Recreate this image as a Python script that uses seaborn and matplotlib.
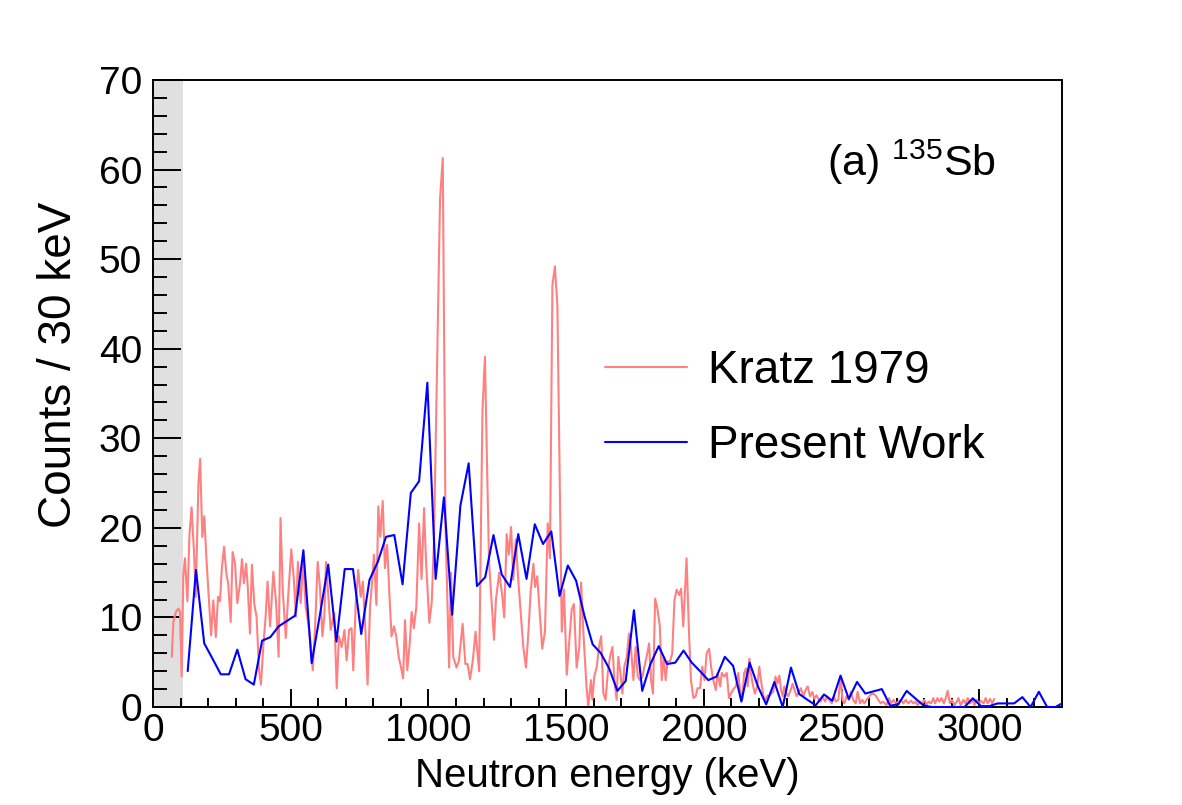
import numpy as np
import seaborn as sns
import matplotlib.pyplot as plt
from matplotlib.ticker import MultipleLocator

# Kratz 1979 spectrum
kratz_energy = [68, 74, 83, 92, 98, 104, 110, 116, 125, 132, 140, 149, 155, 165, 171, 179, 186, 195, 203, 211,
                219, 228, 236, 243, 250, 258, 267, 273, 282, 289, 298, 306, 316, 323, 330, 338, 344, 352, 359, 368,
                376, 385, 392, 401, 408, 416, 425, 437, 447, 456, 463, 471, 482, 491, 502, 511, 519, 526, 536, 546,
                554, 564, 572, 580, 588, 598, 606, 615, 622, 628, 637, 645, 658, 667, 675, 685, 695, 703, 712, 721,
                727, 736, 745, 754, 762, 771, 779, 788, 796, 802, 811, 818, 825, 834, 842, 850, 858, 866, 875, 883,
                892, 900, 908, 915, 923, 932, 939, 947, 956, 966, 975, 984, 991, 1003, 1012, 1020, 1042, 1052, 1062, 1075,
                1082, 1090, 1102, 1111, 1124, 1134, 1142, 1151, 1161, 1171, 1184, 1196, 1205, 1212, 1220, 1238, 1245, 1257, 1268, 1275,
                1284, 1292, 1300, 1308, 1317, 1326, 1336, 1344, 1354, 1363, 1371, 1381, 1387, 1395, 1405, 1413, 1423, 1433, 1441, 1450,
                1459, 1468, 1484, 1492, 1502, 1510, 1520, 1528, 1538, 1548, 1554, 1563, 1574, 1580, 1590, 1595, 1602, 1611, 1619, 1627,
                1635, 1643, 1651, 1659, 1668, 1675, 1683, 1689, 1697, 1704, 1711, 1720, 1728, 1735, 1744, 1752, 1760, 1768, 1777, 1784,
                1792, 1801, 1808, 1815, 1823, 1831, 1840, 1847, 1854, 1861, 1868, 1877, 1885, 1893, 1901, 1910, 1917, 1925, 1937, 1946,
                1953, 1962, 1970, 1977, 1986, 1994, 2002, 2010, 2019, 2026, 2034, 2043, 2050, 2059, 2065, 2074, 2083, 2091, 2098, 2107,
                2116, 2125, 2131, 2139, 2146, 2153, 2159, 2165, 2170, 2177, 2185, 2194, 2201, 2207, 2216, 2224, 2231, 2237, 2244, 2252,
                2260, 2267, 2274, 2280, 2286, 2292, 2300, 2306, 2315, 2322, 2331, 2337, 2345, 2352, 2361, 2369, 2377, 2385, 2394, 2401,
                2409, 2417, 2424, 2431, 2440, 2448, 2455, 2464, 2472, 2479, 2488, 2496, 2503, 2510, 2518, 2527, 2533, 2542, 2551, 2558,
                2567, 2575, 2582, 2591, 2603, 2609, 2618, 2625, 2633, 2642, 2649, 2657, 2663, 2672, 2679, 2688, 2696, 2706, 2716, 2724,
                2733, 2742, 2752, 2760, 2769, 2776, 2785, 2793, 2800, 2809, 2817, 2825, 2833, 2839, 2848, 2855, 2863, 2871, 2878, 2885,
                2893, 2900, 2909, 2918, 2924, 2932, 2942, 2950, 2958, 2966, 2975, 2982, 2990, 2999, 3006, 3015, 3023, 3030, 3039, 3047,
                3054]
kratz_counts = [5.6, 9.5, 10.6, 11.0, 10.6, 3.4, 14.6, 16.6, 11.8, 19.0, 22.3, 17.2, 12.3, 25.0, 27.7, 19.0, 21.3, 16.0, 12.0, 8.0,
                11.9, 7.8, 12.3, 11.8, 15.5, 17.9, 14.7, 13.8, 9.5, 17.3, 16.0, 11.6, 13.8, 16.5, 13.8, 16.0, 13.4, 8.2, 15.9, 11.4,
                10.1, 4.1, 2.5, 7.1, 9.7, 14.0, 9.0, 15.1, 11.6, 5.6, 21.1, 13.1, 7.7, 12.5, 17.6, 14.4, 10.1, 16.2, 11.6, 16.6,
                11.2, 9.3, 7.1, 4.1, 8.6, 16.2, 13.4, 7.9, 10.1, 16.2, 12.1, 8.6, 10.5, 2.1, 7.9, 6.7, 8.6, 5.2, 8.6, 8.8,
                4.1, 11.6, 15.3, 12.3, 14.0, 8.6, 2.5, 11.2, 14.2, 17.0, 11.4, 22.4, 19.0, 23.0, 15.5, 18.1, 12.7, 7.9, 9.0, 7.9,
                5.6, 4.5, 3.2, 9.7, 4.1, 7.1, 10.6, 8.8, 11.2, 20.5, 14.3, 22.2, 16.4, 9.4, 11.7, 18.6, 56.7, 61.3, 20.0, 4.4,
                15.0, 5.6, 4.4, 5.2, 9.3, 4.8, 4.8, 3.1, 5.2, 8.4, 4.0, 33.0, 39.1, 28.0, 16.2, 7.5, 12.0, 15.0, 12.4, 10.0,
                19.3, 17.0, 20.1, 14.2, 18.7, 14.2, 10.1, 6.8, 4.4, 8.4, 12.9, 16.0, 13.4, 14.6, 10.1, 6.5, 8.4, 20.5, 16.6, 47.1,
                49.2, 44.9, 8.4, 13.1, 3.6, 6.8, 10.9, 11.5, 4.4, 6.8, 13.9, 8.0, 2.2, 0.0, 3.0, 0.8, 3.4, 4.5, 6.7, 7.9,
                1.5, 0.8, 3.8, 5.6, 6.7, 3.0, 0.8, 5.6, 3.8, 1.5, 4.5, 5.6, 8.2, 6.7, 3.0, 6.7, 3.4, 3.0, 3.4, 4.5,
                5.6, 7.1, 3.0, 1.5, 12.1, 11.0, 9.0, 3.0, 5.6, 3.0, 5.1, 5.1, 6.0, 11.9, 13.1, 12.5, 13.2, 9.0, 16.6, 8.2,
                3.0, 1.0, 1.2, 2.1, 2.1, 4.5, 3.0, 6.0, 6.5, 4.5, 3.0, 1.9, 3.8, 2.3, 3.8, 3.4, 3.8, 1.0, 1.5, 2.0,
                2.3, 3.8, 1.9, 0.8, 3.8, 4.3, 2.3, 5.4, 3.8, 2.6, 1.5, 2.3, 4.5, 3.0, 1.2, 0.8, 1.3, 1.2, 1.5, 1.7,
                3.4, 2.6, 3.5, 1.9, 1.2, 2.3, 1.5, 1.2, 1.9, 2.6, 1.7, 1.2, 1.7, 2.1, 1.2, 1.9, 2.3, 1.2, 1.7, 0.9,
                1.3, 0.8, 0.6, 1.2, 0.6, 1.2, 0.8, 0.4, 1.2, 0.6, 0.8, 3.4, 0.8, 0.4, 1.2, 0.8, 1.7, 0.8, 0.4, 1.7,
                0.4, 0.8, 0.4, 0.8, 1.3, 1.45, 1.45, 1.2, 0.8, 0.4, 0.6, 0.4, 0.2, 1.0, 0.4, 0.8, 0.4, 0.6, 0.8, 0.4,
                0.8, 0.4, 0.7, 0.4, 0.6, 0.2, 0.6, 0.4, 0.8, 0.3, 0.6, 0.4, 1.0, 0.4, 1.0, 0.6, 1.0, 0.4, 1.0, 1.8,
                0.4, 0.8, 0.2, 0.6, 1.0, 0.2, 0.8, 0.4, 1.0, 0.4, 0.8, 0.2, 0.8, 0.4, 0.7, 0.4, 1.0, 0.4, 0.9, 0.4,
                0.9]

# present work, 30 keV bins starting at 126 keV
present_energy = np.arange(126, 3307, 30)
present_counts = [4.0, 15.3, 7.1, 5.4, 3.65, 3.65, 6.4, 3.1, 2.5, 7.4, 7.8, 9.0, 9.6, 10.2, 17.5, 4.9, 10.3, 15.9, 7.3, 15.4,
                  15.4, 8.15, 14.2, 16.2, 19.0, 19.2, 13.7, 23.9, 25.2, 36.2, 14.3, 23.4, 10.3, 22.5, 27.2, 13.5, 14.5, 19.2, 14.8, 13.4,
                  19.3, 14.3, 20.4, 18.2, 19.6, 12.4, 15.8, 14.1, 10.2, 7.0, 6.0, 4.3, 1.8, 2.9, 10.8, 1.8, 4.8, 6.8, 4.8, 4.95,
                  6.3, 4.95, 4.0, 3.0, 3.4, 5.6, 4.6, 0.6, 4.95, 2.3, 0.3, 2.8, 0.0, 4.4, 1.45, 0.8, 0.2, 1.4, 0.7, 3.5,
                  0.9, 2.8, 1.5, 1.75, 2.0, 0.15, 0.3, 1.8, 1.0, 0.2, 0.0, 0.0, 0.0, 0.0, 0.0, 0.97, 0.1, 0.1, 0.4, 0.4,
                  0.4, 1.1, 0.0, 1.7, 0.0, 0.0, 0.5]

threshold = 108  # keV, shaded region

sns.set_theme(style="ticks")
plt.rcParams['font.family'] = ['Liberation Sans', 'DejaVu Sans']
plt.rcParams['mathtext.fontset'] = 'custom'
plt.rcParams['mathtext.rm'] = 'Liberation Sans'
plt.rcParams['text.color'] = 'black'
plt.rcParams['axes.labelcolor'] = 'black'
plt.rcParams['xtick.color'] = 'black'
plt.rcParams['ytick.color'] = 'black'

fig = plt.figure(figsize=(11.82, 8.05), dpi=100)
ax = fig.add_axes([153 / 1182, 98 / 805, 909 / 1182, 627 / 805])

ax.axvspan(0, threshold, color='#e0e0e0', lw=0, zorder=0)
sns.lineplot(x=kratz_energy, y=kratz_counts, color='#ff8080', lw=1.5, estimator=None,
             sort=False, label='Kratz 1979', ax=ax, zorder=2)
sns.lineplot(x=present_energy, y=present_counts, color='#0000ff', lw=1.5, estimator=None,
             sort=False, label='Present Work', ax=ax, zorder=3)

ax.set_xlim(0, 3300)
ax.set_ylim(0, 70)
ax.xaxis.set_major_locator(MultipleLocator(500))
ax.xaxis.set_minor_locator(MultipleLocator(100))
ax.yaxis.set_major_locator(MultipleLocator(10))
ax.yaxis.set_minor_locator(MultipleLocator(2))
ax.tick_params(axis='both', which='both', direction='in', top=False, right=False,
               width=1.4, color='black', labelcolor='black', labelsize=28)
ax.tick_params(axis='x', which='major', length=13, pad=4)
ax.tick_params(axis='x', which='minor', length=6.5)
ax.tick_params(axis='y', which='major', length=20, pad=8)
ax.tick_params(axis='y', which='minor', length=10)
for s in ax.spines.values():
    s.set_linewidth(1.4)
    s.set_color('black')

ax.set_xlabel('Neutron energy (keV)', fontsize=29, color='black')
ax.set_ylabel('Counts / 30 keV', fontsize=33, color='black')
ax.xaxis.set_label_coords(0.5, -0.08)
ax.yaxis.set_label_coords(-0.079, 0.545)

ax.text(0.742, 0.869, '(a) $^{135}$Sb', transform=ax.transAxes, fontsize=31,
        ha='left', va='center', color='black')

leg = ax.legend(loc='upper left', bbox_to_anchor=(0.472, 0.608), frameon=False, fontsize=33,
                handlelength=1.8, handletextpad=0.45, labelspacing=0.69, borderpad=0)
for t in leg.get_texts():
    t.set_color('black')

fig.savefig('out.png', dpi=100)
